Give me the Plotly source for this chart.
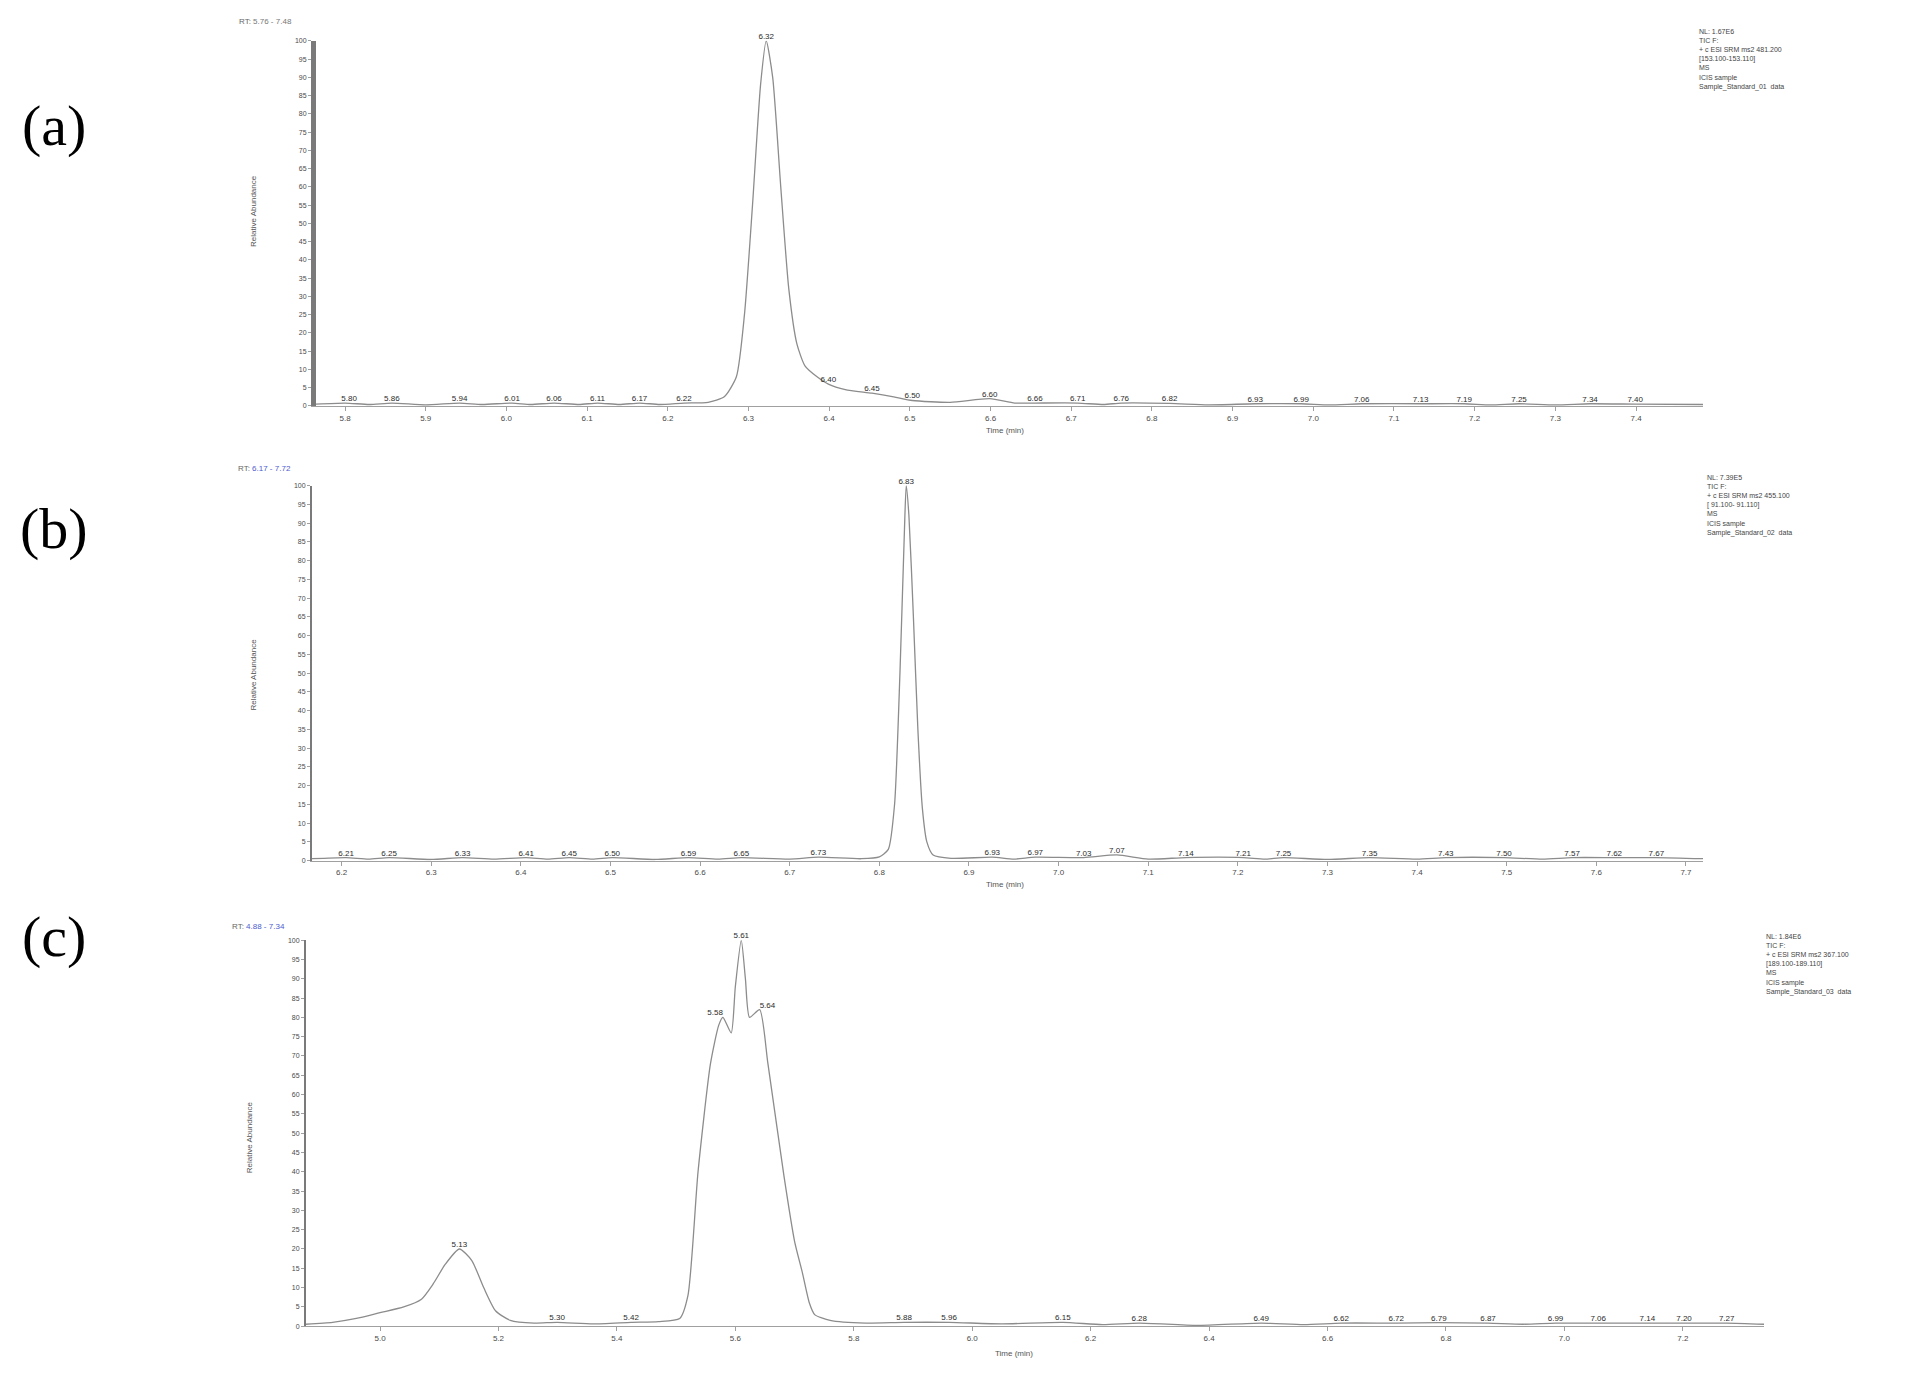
import plotly.graph_objects as go

W, H = 1921, 1373
OFF = 8  # page body margin

# ---------------- Panel (a) ----------------
a_time = [5.764, 5.80, 5.83, 5.858, 5.90, 5.942, 5.97, 6.007, 6.03, 6.059, 6.09, 6.113, 6.14, 6.165, 6.19,
          6.220, 6.25, 6.27, 6.285, 6.295, 6.305, 6.315, 6.322, 6.33, 6.34, 6.35, 6.36, 6.37, 6.385,
          6.399, 6.42, 6.453, 6.48, 6.503, 6.55, 6.599, 6.63, 6.655, 6.708, 6.74, 6.762, 6.822, 6.87,
          6.928, 6.985, 7.02, 7.060, 7.133, 7.187, 7.22, 7.255, 7.30, 7.343, 7.399, 7.483]
a_abund = [0.5, 0.8, 0.4, 0.8, 0.3, 0.8, 0.4, 0.8, 0.4, 0.8, 0.4, 0.8, 0.4, 0.8, 0.4,
           0.8, 1.0, 2.5, 8, 25, 55, 88, 100, 90, 60, 32, 17, 11, 8,
           6, 4.5, 3.5, 2.5, 1.5, 1.0, 2.0, 0.8, 0.8, 0.8, 0.4, 0.8, 0.7, 0.3,
           0.6, 0.6, 0.3, 0.6, 0.6, 0.6, 0.3, 0.6, 0.3, 0.6, 0.5, 0.4]
a_peak_rt = [5.805, 5.858, 5.942, 6.007, 6.059, 6.113, 6.165, 6.220, 6.322, 6.399, 6.453, 6.503,
             6.599, 6.655, 6.708, 6.762, 6.822, 6.928, 6.985, 7.060, 7.133, 7.187, 7.255, 7.343, 7.399]
a_peak_ab = [0.8, 0.8, 0.8, 0.8, 0.8, 0.8, 0.8, 0.8, 100, 6, 3.5, 1.5,
             2.0, 0.8, 0.8, 0.8, 0.7, 0.6, 0.6, 0.6, 0.6, 0.6, 0.6, 0.6, 0.5]
a_xticks = [5.8, 5.9, 6.0, 6.1, 6.2, 6.3, 6.4, 6.5, 6.6, 6.7, 6.8, 6.9, 7.0, 7.1, 7.2, 7.3, 7.4]
a_range = [5.764, 7.483]
a_header = ["RT: ", "5.76 - 7.48"]
a_info = ["NL: 1.67E6", "TIC F:", "+ c ESI SRM ms2 481.200", "[153.100-153.110]", "MS", "ICIS sample",
          "Sample_Standard_01  data"]

# ---------------- Panel (b) ----------------
b_time = [6.167, 6.205, 6.23, 6.253, 6.30, 6.335, 6.37, 6.406, 6.43, 6.454, 6.48, 6.502, 6.55, 6.587,
          6.62, 6.646, 6.70, 6.732, 6.78, 6.80, 6.81, 6.817, 6.823, 6.828, 6.830, 6.833, 6.838, 6.843,
          6.848, 6.853, 6.86, 6.88, 6.926, 6.95, 6.974, 7.028, 7.065, 7.10, 7.142, 7.206, 7.23, 7.251,
          7.30, 7.347, 7.40, 7.432, 7.497, 7.54, 7.573, 7.620, 7.667, 7.719]
b_abund = [0.5, 0.8, 0.4, 0.8, 0.3, 0.8, 0.4, 0.8, 0.4, 0.8, 0.4, 0.8, 0.3, 0.8,
           0.4, 0.8, 0.4, 0.9, 0.5, 1.0, 3, 15, 50, 88, 100, 92, 65, 35,
           14, 5, 1.5, 0.6, 0.9, 0.4, 0.9, 0.8, 1.5, 0.4, 0.8, 0.8, 0.4, 0.8,
           0.3, 0.8, 0.4, 0.8, 0.8, 0.4, 0.8, 0.8, 0.8, 0.5]
b_peak_rt = [6.205, 6.253, 6.335, 6.406, 6.454, 6.502, 6.587, 6.646, 6.732, 6.830, 6.926, 6.974,
             7.028, 7.065, 7.142, 7.206, 7.251, 7.347, 7.432, 7.497, 7.573, 7.620, 7.667]
b_peak_ab = [0.8, 0.8, 0.8, 0.8, 0.8, 0.8, 0.8, 0.8, 0.9, 100, 0.9, 0.9,
             0.8, 1.5, 0.8, 0.8, 0.8, 0.8, 0.8, 0.8, 0.8, 0.8, 0.8]
b_xticks = [6.2, 6.3, 6.4, 6.5, 6.6, 6.7, 6.8, 6.9, 7.0, 7.1, 7.2, 7.3, 7.4, 7.5, 7.6, 7.7]
b_range = [6.167, 7.719]
b_header = ["RT: ", "6.17 - 7.72"]
b_info = ["NL: 7.39E5", "TIC F:", "+ c ESI SRM ms2 455.100", "[ 91.100- 91.110]", "MS", "ICIS sample",
          "Sample_Standard_02  data"]

# ---------------- Panel (c) ----------------
c_time = [4.875, 4.92, 4.96, 5.00, 5.04, 5.07, 5.09, 5.11, 5.134, 5.155, 5.175, 5.195, 5.22, 5.26,
          5.299, 5.36, 5.424, 5.47, 5.506, 5.52, 5.537, 5.558, 5.572, 5.579, 5.593, 5.600, 5.610,
          5.617, 5.624, 5.641, 5.655, 5.682, 5.700, 5.713, 5.725, 5.734, 5.76, 5.82, 5.885, 5.961,
          6.05, 6.153, 6.22, 6.282, 6.38, 6.488, 6.56, 6.623, 6.716, 6.788, 6.871, 6.93, 6.985,
          7.057, 7.140, 7.202, 7.274, 7.337]
c_abund = [0.5, 1.0, 2.0, 3.5, 5.0, 7.0, 11, 16, 20, 17, 10, 4, 1.5, 0.8,
           1.0, 0.6, 1.0, 1.2, 2.0, 8, 40, 68, 78, 80, 76, 88, 100,
           90, 80, 82, 68, 39, 22, 14, 6, 3, 1.5, 0.8, 1.0, 1.0,
           0.6, 1.0, 0.4, 0.8, 0.2, 0.8, 0.4, 0.8, 0.8, 0.9, 0.8, 0.5, 0.8,
           0.8, 0.8, 0.8, 0.8, 0.5]
c_peak_rt = [5.134, 5.299, 5.424, 5.610, 5.885, 5.961, 6.153, 6.282, 6.488, 6.623, 6.716,
             6.788, 6.871, 6.985, 7.057, 7.140, 7.202, 7.274]
c_peak_ab = [20, 1.0, 1.0, 100, 1.0, 1.0, 1.0, 0.8, 0.8, 0.8, 0.8,
             0.9, 0.8, 0.8, 0.8, 0.8, 0.8, 0.8]
c_left_rt, c_left_ab = [5.579], [80]
c_right_rt, c_right_ab = [5.641], [82]
c_xticks = [5.0, 5.2, 5.4, 5.6, 5.8, 6.0, 6.2, 6.4, 6.6, 6.8, 7.0, 7.2]
c_range = [4.875, 7.337]
c_header = ["RT: ", "4.88 - 7.34"]
c_info = ["NL: 1.84E6", "TIC F:", "+ c ESI SRM ms2 367.100", "[189.100-189.110]", "MS", "ICIS sample",
          "Sample_Standard_03  data"]

y_ticks = [0, 5, 10, 15, 20, 25, 30, 35, 40, 45, 50, 55, 60, 65, 70, 75, 80, 85, 90, 95, 100]
panel_labels = ["(a)", "(b)", "(c)"]

FW, FH = W - 2 * OFF, H - 2 * OFF


def px(x):
    return (x - OFF) / FW


def py(y):
    return 1 - (y - OFF) / FH


fig = go.Figure()

panels = [
    dict(t=a_time, y=a_abund, prt=a_peak_rt, pab=a_peak_ab, ticks=a_xticks, rng=a_range,
         header=a_header, info=a_info, box=(316, 1703, 37, 404), yw=5, hdr=(237, 18),
         inf=(1697, 22), ytl=(254, 208), xtl=(1005, 429), lab=(54, 122), hcol="#777777"),
    dict(t=b_time, y=b_abund, prt=b_peak_rt, pab=b_peak_ab, ticks=b_xticks, rng=b_range,
         header=b_header, info=b_info, box=(312, 1703, 484, 861), yw=2, hdr=(236, 467),
         inf=(1705, 470), ytl=(254, 674), xtl=(1005, 885), lab=(54, 527), hcol="#4d5bd0"),
    dict(t=c_time, y=c_abund, prt=c_peak_rt, pab=c_peak_ab, ticks=c_xticks, rng=c_range,
         header=c_header, info=c_info, box=(306, 1764, 941, 1329), yw=2, hdr=(230, 927),
         inf=(1764, 932), ytl=(249, 1139), xtl=(1014, 1356), lab=(54, 937), hcol="#4d5bd0"),
]

annotations = []
for i, p in enumerate(panels, start=1):
    xa = "x" if i == 1 else f"x{i}"
    ya = "y" if i == 1 else f"y{i}"
    x0, x1, y0, y1 = p["box"]
    fig.add_trace(go.Scatter(x=p["t"], y=p["y"], mode="lines", xaxis=xa, yaxis=ya,
                             line=dict(color="#8c8c8c", width=1.3, shape="spline", smoothing=0.6),
                             hoverinfo="skip", showlegend=False))
    fig.add_trace(go.Scatter(x=p["prt"], y=p["pab"], mode="text", xaxis=xa, yaxis=ya,
                             text=[f"{v:.2f}" for v in p["prt"]], textposition="top center",
                             textfont=dict(size=8, color="#2a2a2a", family="Liberation Sans"),
                             cliponaxis=False, hoverinfo="skip", showlegend=False))
    xkey = "xaxis" if i == 1 else f"xaxis{i}"
    ykey = "yaxis" if i == 1 else f"yaxis{i}"
    fig.update_layout({
        xkey: dict(domain=[px(x0), px(x1)], anchor=ya, range=p["rng"], tickvals=p["ticks"],
                   ticktext=[f"{v:.1f}" for v in p["ticks"]], showgrid=False, zeroline=False,
                   showline=True, linecolor="#a0a0a0", linewidth=1, ticks="outside", ticklen=4,
                   tickcolor="#a0a0a0", tickfont=dict(size=8, color="#4a4a4a", family="Liberation Sans")),
        ykey: dict(domain=[py(y1), py(y0)], anchor=xa, range=[0, 100], tickvals=y_ticks,
                   showgrid=False, zeroline=False, showline=True, linecolor="#7a7a7a",
                   linewidth=p["yw"], ticks="outside", ticklen=3, tickcolor="#a0a0a0",
                   tickfont=dict(size=7, color="#4a4a4a", family="Liberation Sans")),
    })
    hx, hy = p["hdr"]
    annotations.append(dict(x=px(hx), y=py(hy), xref="paper", yref="paper", xanchor="left",
                            yanchor="middle", showarrow=False,
                            text=f"<span style='color:#666'>{p['header'][0]}</span>"
                                 f"<span style='color:{p['hcol']}'>{p['header'][1]}</span>",
                            font=dict(size=8, family="Liberation Sans")))
    ix, iy = p["inf"]
    annotations.append(dict(x=px(ix), y=py(iy), xref="paper", yref="paper", xanchor="left",
                            yanchor="top", align="left", showarrow=False,
                            text="<br>".join(p["info"]),
                            font=dict(size=7, color="#444444", family="Liberation Sans")))
    tx, ty = p["ytl"]
    annotations.append(dict(x=px(tx), y=py(ty), xref="paper", yref="paper", showarrow=False,
                            xanchor="center", yanchor="middle",
                            textangle=-90, text="Relative Abundance",
                            font=dict(size=8, color="#555555", family="Liberation Sans")))
    ax_, ay_ = p["xtl"]
    annotations.append(dict(x=px(ax_), y=py(ay_), xref="paper", yref="paper", showarrow=False,
                            xanchor="center", yanchor="middle",
                            text="Time (min)",
                            font=dict(size=8, color="#555555", family="Liberation Sans")))
    lx, ly = p["lab"]
    annotations.append(dict(x=px(lx), y=py(ly), xref="paper", yref="paper", showarrow=False,
                            xanchor="center", yanchor="middle",
                            text=panel_labels[i - 1],
                            font=dict(size=58, color="#000000", family="Liberation Serif")))

# shoulder labels in panel (c)
fig.add_trace(go.Scatter(x=c_left_rt, y=c_left_ab, mode="text", xaxis="x3", yaxis="y3",
                         text=[f"{v:.2f}" for v in c_left_rt], textposition="top left",
                         textfont=dict(size=8, color="#2a2a2a", family="Liberation Sans"),
                         cliponaxis=False, hoverinfo="skip", showlegend=False))
fig.add_trace(go.Scatter(x=c_right_rt, y=c_right_ab, mode="text", xaxis="x3", yaxis="y3",
                         text=[f"{v:.2f}" for v in c_right_rt], textposition="top right",
                         textfont=dict(size=8, color="#2a2a2a", family="Liberation Sans"),
                         cliponaxis=False, hoverinfo="skip", showlegend=False))

fig.update_layout(width=FW, height=FH, margin=dict(l=0, r=0, t=0, b=0),
                  paper_bgcolor="white", plot_bgcolor="white", annotations=annotations,
                  showlegend=False)

fig.write_html("out.html")
